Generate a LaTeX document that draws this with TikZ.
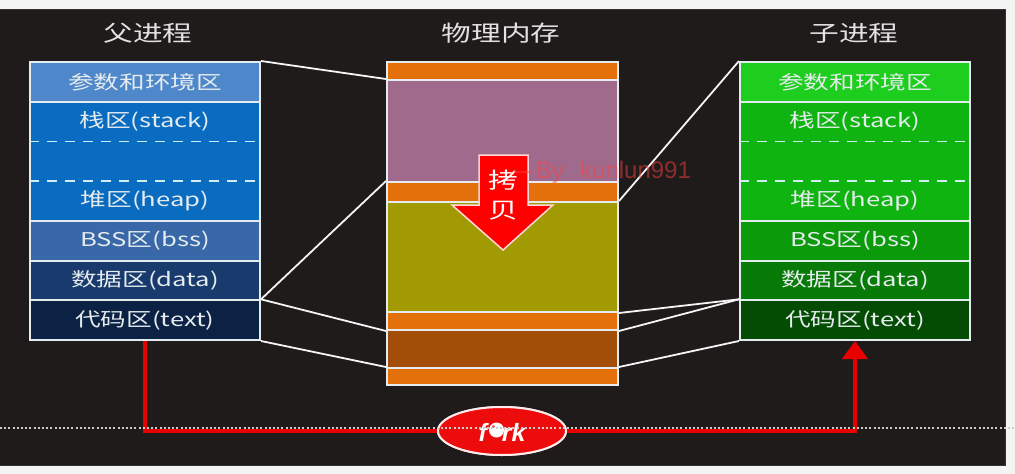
\documentclass[tikz,border=0pt]{standalone}
\usepackage{fontspec}
\setmainfont{Noto Sans CJK SC}[FakeStretch=1.35]
\newfontfamily\forkfont{Liberation Sans}
\newfontfamily\wmfont{Liberation Sans}
\usetikzlibrary{shapes.geometric,arrows.meta,calc}
\definecolor{bgwhite}{HTML}{F4F4F4}
\definecolor{bgdark}{HTML}{1F1B1B}
\definecolor{pparam}{HTML}{4F87CB}
\definecolor{pstack}{HTML}{0A6CC0}
\definecolor{pbss}{HTML}{3868A8}
\definecolor{pdata}{HTML}{183A6C}
\definecolor{ptext}{HTML}{0C2244}
\definecolor{cparam}{HTML}{1ECE1E}
\definecolor{cstack}{HTML}{10B410}
\definecolor{cbss}{HTML}{0A9A0A}
\definecolor{cdata}{HTML}{077A07}
\definecolor{ctext}{HTML}{044C04}
\definecolor{morange}{HTML}{E4700C}
\definecolor{mpurple}{HTML}{A06A8C}
\definecolor{molive}{HTML}{A29A02}
\definecolor{mbrown}{HTML}{A24E08}
\definecolor{rowline}{HTML}{E4ECF0}
\definecolor{labeltext}{HTML}{E6ECEE}
\definecolor{titletext}{HTML}{E2E2E2}
\definecolor{redline}{HTML}{E80000}
\definecolor{forkred}{HTML}{EC0C0C}
\tikzset{
  row/.style={draw=rowline, line width=2pt, minimum width=230pt, inner sep=0pt},
  lbl/.style={text=labeltext, font=\fontsize{19}{19}\selectfont, inner sep=0pt},
  ttl/.style={text=titletext, font=\fontsize{22}{22}\selectfont, inner sep=0pt},
  memrow/.style={draw=rowline, line width=2pt, minimum width=231pt, inner sep=0pt},
  link/.style={draw=white!92!gray, line width=1.8pt},
  dashsep/.style={draw=rowline!90!cyan, line width=1.8pt, dash pattern=on 10pt off 8pt},
  forkline/.style={draw=redline, line width=4.5pt},
  forkel/.style={ellipse, fill=forkred, draw=white!92!red, line width=2pt, minimum width=128pt, minimum height=48pt, inner sep=0pt},
}
\begin{document}
\begin{tikzpicture}[x=1pt, y=-1pt]
\useasboundingbox (0,0) rectangle (1015,474);
\fill[bgwhite] (0,0) rectangle (1015,474);
\fill[bgdark] (0,9) rectangle (1006,466);
\draw[black!80, line width=1pt] (0,9.5) -- (1005.5,9.5) -- (1005.5,465.5) -- (0,465.5);

% titles
\node[ttl] (t1) at (148,33) {父进程};
\node[ttl] (t2) at (501,33) {物理内存};
\node[ttl] (t3) at (854,33) {子进程};

% parent process
\node[row, fill=pparam, minimum height=39.7pt] (p1) at (145,81.85) {};
\node[row, fill=pstack, minimum height=119.1pt] (p2) at (145,161.3) {};
\node[row, fill=pbss, minimum height=39.7pt] (p3) at (145,240.75) {};
\node[row, fill=pdata, minimum height=39.7pt] (p4) at (145,280.45) {};
\node[row, fill=ptext, minimum height=39.7pt] (p5) at (145,320.15) {};
\draw[dashsep] (p2.west |- 0,141.4) -- (p2.east |- 0,141.4);
\draw[dashsep] (p2.west |- 0,181.1) -- (p2.east |- 0,181.1);
\node[lbl] (pl1) at (p1.center) {参数和环境区};
\node[lbl] (pl2) at (145,121.6) {栈区(stack)};
\node[lbl] (pl3) at (145,200.8) {堆区(heap)};
\node[lbl] (pl4) at (p3.center) {BSS区(bss)};
\node[lbl] (pl5) at (p4.center) {数据区(data)};
\node[lbl] (pl6) at (p5.center) {代码区(text)};

% child process
\node[row, fill=cparam, minimum height=39.7pt] (c1) at (855,81.85) {};
\node[row, fill=cstack, minimum height=119.1pt] (c2) at (855,161.3) {};
\node[row, fill=cbss, minimum height=39.7pt] (c3) at (855,240.75) {};
\node[row, fill=cdata, minimum height=39.7pt] (c4) at (855,280.45) {};
\node[row, fill=ctext, minimum height=39.7pt] (c5) at (855,320.15) {};
\draw[dashsep] (c2.west |- 0,141.4) -- (c2.east |- 0,141.4);
\draw[dashsep] (c2.west |- 0,181.1) -- (c2.east |- 0,181.1);
\node[lbl] (cl1) at (c1.center) {参数和环境区};
\node[lbl] (cl2) at (855,121.6) {栈区(stack)};
\node[lbl] (cl3) at (855,200.8) {堆区(heap)};
\node[lbl] (cl4) at (c3.center) {BSS区(bss)};
\node[lbl] (cl5) at (c4.center) {数据区(data)};
\node[lbl] (cl6) at (c5.center) {代码区(text)};

% physical memory
\node[memrow, fill=morange, minimum height=18pt] (m1) at (502.5,71) {};
\node[memrow, fill=mpurple, minimum height=102pt] (m2) at (502.5,131) {};
\node[memrow, fill=morange, minimum height=20pt] (m3) at (502.5,192) {};
\node[memrow, fill=molive, minimum height=110pt] (m4) at (502.5,257) {};
\node[memrow, fill=morange, minimum height=18pt] (m5) at (502.5,321) {};
\node[memrow, fill=mbrown, minimum height=38pt] (m6) at (502.5,349) {};
\node[memrow, fill=morange, minimum height=17pt] (m7) at (502.5,376.5) {};

% links
\draw[link] (p1.north east) -- (m2.north west);
\draw[link] (p5.north east) -- (m3.north west);
\draw[link] (p5.north east) -- (m5.south west);
\draw[link] (p5.south east) -- (m7.north west);
\draw[link] (m4.north east) -- (c1.north west);
\draw[link] (m4.south east) -- (c5.north west);
\draw[link] (m5.south east) -- (c5.north west);
\draw[link] (m7.north east) -- (c5.south west);

% copy arrow
\draw[fill=red, draw=white!85!red, line width=1.5pt, line join=miter]
  (479,155) -- (528,155) -- (528,205) -- (553,205) -- (503,250) -- (452,205) -- (479,205) -- cycle;
\node[text=white, font=\fontsize{22}{22}\selectfont, inner sep=0pt] (k1) at (503,180) {拷};
\node[text=white, font=\fontsize{22}{22}\selectfont, inner sep=0pt] (k2) at (503,211) {贝};

% fork
\node[forkel] (fork) at (502,431) {};
\draw[forkline] (p5.south) |- (fork.west);
\draw[forkline, -{Triangle[width=25pt, length=18pt]}] (fork.east) -| (c5.south);
\node[forkel] (fork2) at (502,431) {};
\node[text=white, font=\forkfont\bfseries\itshape\fontsize{25}{25}\selectfont, inner sep=0pt] (forktxt) at (502,432) {f\hspace{15pt}rk};
\fill[white] (496.5,430) circle (7.5pt);
\fill[forkred!70!white] (493.5,426.5) circle (1.6pt);

% dotted screen line
\draw[gray!40!white, line width=2pt, dash pattern=on 2pt off 2.2pt] (0,428) -- (1015,428);

% watermark
\draw[red!75!white, opacity=0.45, line width=1.5pt] (514,172) -- (532,172);
\node[text=red!75!white, opacity=0.5, font=\wmfont\fontsize{24}{24}\selectfont, inner sep=0pt, anchor=west] (wm) at (536,172) {By\hspace{16pt}kunlun991};
\end{tikzpicture}
\end{document}
